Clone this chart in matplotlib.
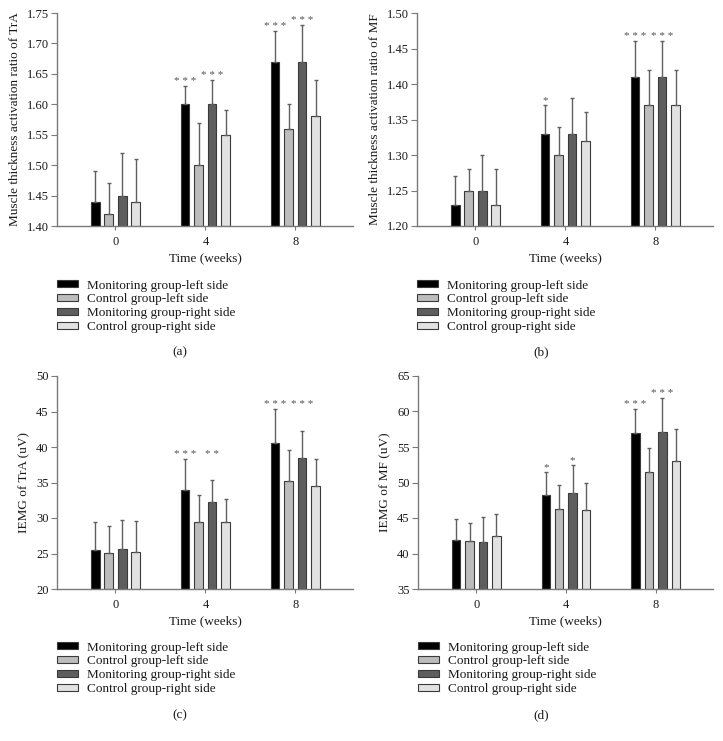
import matplotlib
matplotlib.use("Agg")
import matplotlib.pyplot as plt
from matplotlib.patches import Patch
import numpy as np

plt.rcParams['font.family'] = ['Liberation Serif', 'DejaVu Serif']

weeks = ["0", "4", "8"]
series_names = ["Monitoring group-left side", "Control group-left side",
                "Monitoring group-right side", "Control group-right side"]
series_colors = ["#000000", "#bcbcbc", "#5e5e5e", "#e2e2e2"]

# Panel (a): Muscle thickness activation ratio of TrA
a_means = [[1.44, 1.60, 1.67], [1.42, 1.50, 1.56], [1.45, 1.60, 1.67], [1.44, 1.55, 1.58]]
a_tops = [[1.49, 1.63, 1.72], [1.47, 1.57, 1.60], [1.52, 1.64, 1.73], [1.51, 1.59, 1.64]]
a_stars = {(1, 0): "* * *", (1, 2): "* * *", (2, 0): "* * *", (2, 2): "* * *"}

# Panel (b): Muscle thickness activation ratio of MF
b_means = [[1.23, 1.33, 1.41], [1.25, 1.30, 1.37], [1.25, 1.33, 1.41], [1.23, 1.32, 1.37]]
b_tops = [[1.27, 1.37, 1.46], [1.28, 1.34, 1.42], [1.30, 1.38, 1.46], [1.28, 1.36, 1.42]]
b_stars = {(1, 0): "*", (2, 0): "* * *", (2, 2): "* * *"}

# Panel (c): IEMG of TrA
c_means = [[25.5, 33.9, 40.6], [25.1, 29.4, 35.2], [25.7, 32.3, 38.5], [25.2, 29.5, 34.5]]
c_tops = [[29.4, 38.3, 45.3], [28.9, 33.2, 39.6], [29.7, 35.4, 42.3], [29.6, 32.7, 38.3]]
c_stars = {(1, 0): "* * *", (1, 2): "* *", (2, 0): "* * *", (2, 2): "* * *"}

# Panel (d): IEMG of MF
d_means = [[41.95, 48.2, 57.0], [41.8, 46.3, 51.5], [41.6, 48.5, 57.15], [42.4, 46.1, 53.0]]
d_tops = [[44.8, 51.5, 60.4], [44.35, 49.7, 54.8], [45.2, 52.4, 61.85], [45.6, 49.9, 57.5]]
d_stars = {(1, 0): "*", (1, 2): "*", (2, 0): "* * *", (2, 2): "* * *"}

panels = [
    dict(means=a_means, tops=a_tops, stars=a_stars, ylabel="Muscle thickness activation ratio of TrA",
         ylim=(1.40, 1.75), yticks=np.arange(1.40, 1.7501, 0.05), fmt="{:.2f}", tag="(a)", align=False),
    dict(means=b_means, tops=b_tops, stars=b_stars, ylabel="Muscle thickness activation ratio of MF",
         ylim=(1.20, 1.50), yticks=np.arange(1.20, 1.5001, 0.05), fmt="{:.2f}", tag="(b)", align=False),
    dict(means=c_means, tops=c_tops, stars=c_stars, ylabel="IEMG of TrA (uV)",
         ylim=(20, 50), yticks=np.arange(20, 51, 5), fmt="{:.0f}", tag="(c)", align=True),
    dict(means=d_means, tops=d_tops, stars=d_stars, ylabel="IEMG of MF (uV)",
         ylim=(35, 65), yticks=np.arange(35, 66, 5), fmt="{:.0f}", tag="(d)", align=False),
]

W, H = 723, 741
fig = plt.figure(figsize=(W / 100, H / 100), dpi=100)

# axes boxes in pixels: left, top, right, bottom
boxes = [(57, 13, 353, 226), (417, 13, 713, 226), (57, 376, 353, 589), (418, 376, 713, 589)]
legend_tops = [279.5, 279.5, 641.5, 641.5]
tag_y = [352, 352, 715, 715]
tag_x = [180, 541, 180, 541]

spine_col = "#7a7a7a"
text_col = "#1a1a1a"
fs = 9.5
tfs = 9

x = np.arange(len(weeks))
width = 0.095
step = 0.15
offsets = (np.arange(4) - 1.5) * step

for p, box in zip(panels, boxes):
    l, t, r, b = box
    ax = fig.add_axes([l / W, 1 - b / H, (r - l) / W, (b - t) / H])
    for s in range(4):
        pos = x + offsets[s]
        means = np.array(p["means"][s])
        tops = np.array(p["tops"][s])
        ax.bar(pos, means - p["ylim"][0], width, bottom=p["ylim"][0], color=series_colors[s],
               edgecolor="#3a3a3a", linewidth=0.8, zorder=2)
        ax.errorbar(pos, means, yerr=[np.zeros(3), tops - means], fmt="none",
                    ecolor="#606060", elinewidth=1.0, capsize=1.2, capthick=1.0, zorder=3)
    for (g, s), txt in p["stars"].items():
        if p["align"]:
            yv = max(p["tops"][0][g], p["tops"][2][g])
        else:
            yv = p["tops"][s][g]
        ax.annotate(txt, (x[g] + offsets[s], yv), xytext=(0, 1.5), textcoords="offset points",
                    ha="center", va="baseline", fontsize=8, color="#555555")
    ax.set_xlim(-0.65, 2.64)
    ax.set_ylim(*p["ylim"])
    ax.set_yticks(p["yticks"])
    ax.set_yticklabels([p["fmt"].format(v) for v in p["yticks"]])
    ax.set_xticks(x)
    ax.set_xticklabels(weeks)
    for sp in ["top", "right"]:
        ax.spines[sp].set_visible(False)
    for sp in ["left", "bottom"]:
        ax.spines[sp].set_color(spine_col)
        ax.spines[sp].set_linewidth(1.0)
    ax.tick_params(axis="y", length=4, width=0.8, color=spine_col, labelsize=tfs, labelcolor=text_col, pad=2)
    ax.tick_params(axis="x", length=3, width=0.8, color=spine_col, labelsize=tfs, labelcolor=text_col, pad=4)
    ax.set_ylabel(p["ylabel"], fontsize=fs, color=text_col, labelpad=4)
    ax.set_xlabel("Time (weeks)", fontsize=fs, color=text_col, labelpad=3)

for i, p in enumerate(panels):
    l = boxes[i][0]
    handles = [Patch(facecolor=series_colors[s], edgecolor="#3a3a3a", linewidth=0.8) for s in range(4)]
    fig.legend(handles, series_names, loc="upper left", bbox_to_anchor=(l / W, 1 - legend_tops[i] / H),
               frameon=False, fontsize=fs, handlelength=1.6, handleheight=0.45, handletextpad=0.7,
               labelspacing=0.15, borderpad=0, borderaxespad=0, labelcolor=text_col)
    fig.text(tag_x[i] / W, 1 - tag_y[i] / H, p["tag"], ha="center", va="center", fontsize=fs, color=text_col)

fig.savefig("out.png", dpi=100)
